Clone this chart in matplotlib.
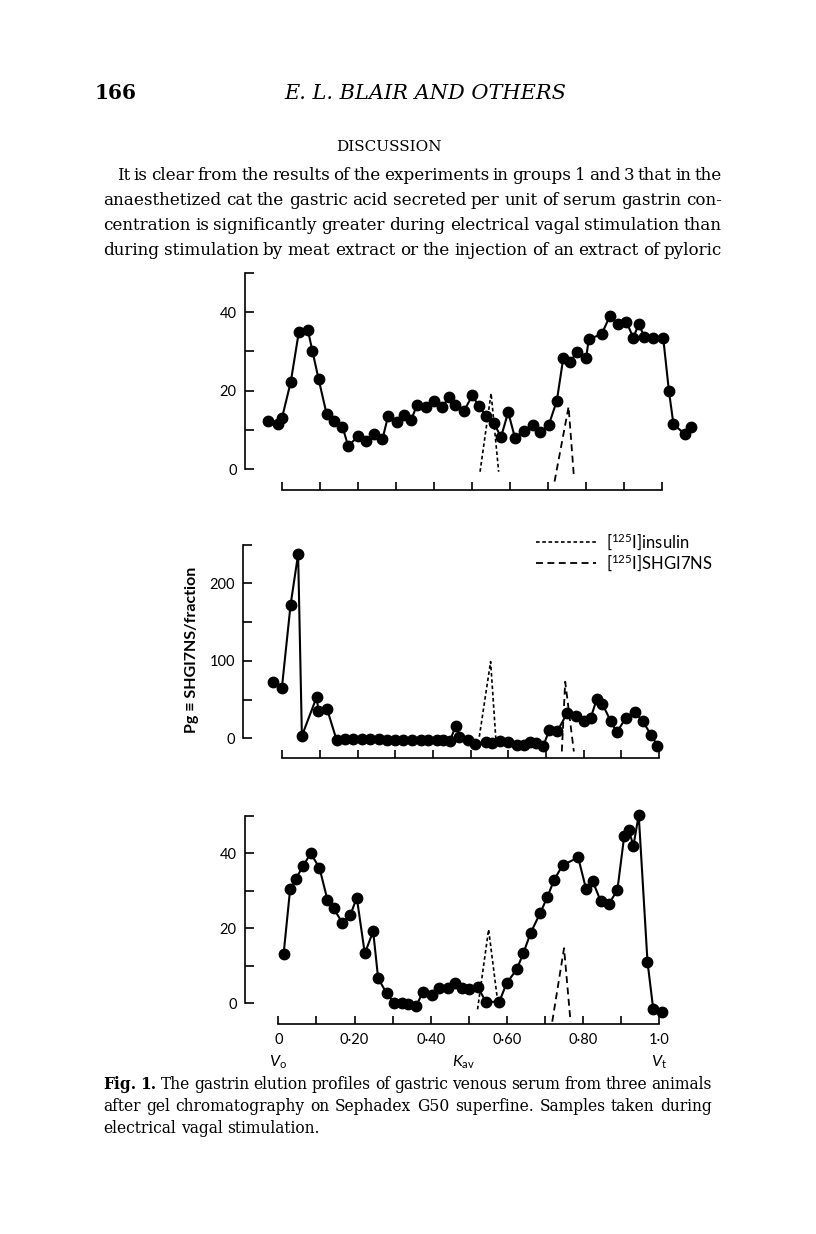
import matplotlib
matplotlib.use("Agg")
import matplotlib.pyplot as plt
from matplotlib.lines import Line2D

plt.rcParams["font.family"] = ["Lato", "DejaVu Sans"]
plt.rcParams["mathtext.fontset"] = "custom"
plt.rcParams["mathtext.rm"] = "Lato"
plt.rcParams["mathtext.it"] = "Lato:italic"
plt.rcParams["lines.scale_dashes"] = False

W, H = 816, 1234

#-------------------------------------------------------------------------------
# Top animal
kav_a = [-0.037, -0.011, 0.001, 0.024, 0.045, 0.069, 0.081, 0.097, 0.118, 0.138,
         0.160, 0.175, 0.200, 0.222, 0.242, 0.265, 0.280, 0.303, 0.322, 0.341,
         0.356, 0.379, 0.401, 0.421, 0.441, 0.456, 0.479, 0.502, 0.518, 0.538,
         0.559, 0.577, 0.596, 0.614, 0.637, 0.661, 0.680, 0.703, 0.724, 0.741,
         0.759, 0.777, 0.801, 0.808, 0.842, 0.864, 0.885, 0.907, 0.925, 0.940,
         0.954, 0.978, 1.004, 1.019, 1.031, 1.061, 1.076]
pg_a = [12.3, 11.4, 13.1, 22.3, 34.9, 35.4, 30.0, 23.0, 14.1, 12.3,
        10.8, 5.8, 8.3, 7.1, 8.9, 7.6, 13.5, 12.1, 13.9, 12.6,
        16.3, 15.8, 17.4, 15.7, 18.4, 16.3, 14.7, 18.8, 16.1, 13.6,
        11.7, 8.1, 14.5, 7.9, 9.7, 11.1, 9.4, 11.3, 17.4, 28.3,
        27.4, 29.8, 28.2, 33.1, 34.4, 39.1, 36.9, 37.6, 33.5, 37.0,
        33.7, 33.4, 33.4, 19.9, 11.4, 8.9, 10.7]
ins_kav_a = [0.522, 0.551, 0.571]
ins_a = [-0.7, 19.3, -0.7]
shgi_kav_a = [0.718, 0.755, 0.769]
shgi_a = [-3.2, 15.9, -2.0]

# Middle animal
kav_b = [-0.024, -0.001, 0.022, 0.042, 0.052, 0.091, 0.096, 0.119, 0.144,
         0.166, 0.188, 0.212, 0.233, 0.256, 0.277, 0.300, 0.321, 0.345, 0.367,
         0.388, 0.410, 0.427, 0.445, 0.461, 0.470, 0.493, 0.512, 0.542, 0.558,
         0.578, 0.600, 0.624, 0.642, 0.658, 0.673, 0.693, 0.709, 0.730, 0.757,
         0.779, 0.801, 0.819, 0.835, 0.850, 0.872, 0.888, 0.912, 0.936, 0.957,
         0.979, 0.996]
pg_b = [72.4, 65.5, 172.4, 237.5, 3.0, 53.0, 35.8, 37.5, -2.0,
        -1.0, -1.0, -1.0, -1.0, -1.5, -2.0, -2.0, -2.5, -2.5, -2.0,
        -2.0, -2.0, -2.5, -3.0, 16.4, 1.3, -1.7, -7.3, -4.3, -5.6,
        -3.9, -4.3, -8.6, -8.2, -4.3, -6.5, -9.5, 10.8, 9.1, 33.2,
        28.9, 22.4, 26.7, 50.9, 44.0, 22.0, 7.8, 26.3, 33.6, 22.0,
        4.3, -9.5]
ins_kav_b = [0.523, 0.553, 0.567]
ins_b = [2.0, 99.0, -2.0]
shgi_kav_b = [0.742, 0.751, 0.774]
shgi_b = [-17.0, 73.0, -17.0]

# Bottom animal
kav_c = [0.014, 0.031, 0.046, 0.065, 0.085, 0.108, 0.129, 0.145, 0.168, 0.189,
         0.206, 0.227, 0.249, 0.262, 0.284, 0.304, 0.324, 0.341, 0.362, 0.380,
         0.404, 0.421, 0.446, 0.464, 0.481, 0.500, 0.523, 0.545, 0.580, 0.599,
         0.626, 0.643, 0.662, 0.687, 0.706, 0.724, 0.746, 0.787, 0.808, 0.825,
         0.846, 0.867, 0.890, 0.908, 0.920, 0.932, 0.946, 0.969, 0.984, 1.008]
pg_c = [13.2, 30.4, 33.2, 36.6, 40.0, 36.1, 27.6, 25.3, 21.5, 23.5,
        28.2, 13.3, 19.2, 6.7, 2.7, 0.0, 0.0, -0.2, -0.7, 3.1,
        2.2, 4.2, 4.2, 5.3, 4.0, 3.9, 4.4, 0.4, 0.4, 5.3,
        9.1, 13.3, 18.7, 24.0, 28.3, 32.9, 36.8, 38.9, 30.4, 32.6,
        27.3, 26.4, 30.2, 44.7, 46.2, 42.0, 50.2, 11.1, -1.5, -2.2]
ins_kav_c = [0.523, 0.552, 0.578]
ins_c = [-1.6, 19.7, -1.3]
shgi_kav_c = [0.719, 0.750, 0.767]
shgi_c = [-4.9, 14.7, -4.9]

kav_ticks = [0, 0.1, 0.2, 0.3, 0.4, 0.5, 0.6, 0.7, 0.8, 0.9, 1.0]
kav_labels = ["0", "", "0·20", "", "0·40", "", "0·60", "", "0·80", "", "1·0"]

yticks_small = [0, 10, 20, 30, 40, 50]
ylabels_small = ["0", "", "20", "", "40", ""]
yticks_big = [0, 50, 100, 150, 200, 250]
ylabels_big = ["0", "", "100", "", "200", ""]

para = [
  "It is clear from the results of the experiments in groups 1 and 3 that in the",
  "anaesthetized cat the gastric acid secreted per unit of serum gastrin con-",
  "centration is significantly greater during electrical vagal stimulation than",
  "during stimulation by meat extract or the injection of an extract of pyloric",
]
caption = [
  "Fig. 1. The gastrin elution profiles of gastric venous serum from three animals",
  "after gel chromatography on Sephadex G50 superfine. Samples taken during",
  "electrical vagal stimulation.",
]

INS_DASH = (2.6, 1.9)
SHGI_DASH = (5.0, 3.2)

#-------------------------------------------------------------------------------

def make_panel(fig, x0px, x1px, y0px, scale, xlim, ylim, axis_y, yticks, ylabels,
               xlabels=None):
  """ Place an axes so that data x=0..1 and y=0 land on the given pixels. """
  sx = x1px - x0px
  left = x0px + xlim[0] * sx
  right = x0px + xlim[1] * sx
  top = y0px - ylim[1] * scale
  bottom = y0px - ylim[0] * scale
  ax = fig.add_axes([left / W, 1 - bottom / H, (right - left) / W, (bottom - top) / H])
  ax.set_xlim(*xlim)
  ax.set_ylim(*ylim)
  ax.patch.set_visible(False)
  for s in ["top", "right"]:
    ax.spines[s].set_visible(False)
  ax.spines["left"].set_bounds(yticks[0], yticks[-1])
  ax.spines["bottom"].set_position(("data", axis_y))
  ax.spines["bottom"].set_bounds(0, 1)
  for s in ["left", "bottom"]:
    ax.spines[s].set_linewidth(1.2)
  ax.set_yticks(yticks)
  ax.set_yticklabels(ylabels)
  ax.set_xticks(kav_ticks)
  ax.set_xticklabels(xlabels if xlabels else [""] * len(kav_ticks))
  ax.tick_params(axis="y", direction="in", length=6.5, width=1.2, labelsize=10.5, pad=6)
  ax.tick_params(axis="x", direction="in", length=5.5, width=1.2, labelsize=10.5, pad=6)
  return ax

def draw_profile(ax, kav, pg, ikav, ins, skav, shgi):
  ax.plot(ikav, ins, color="k", lw=1.2, dashes=INS_DASH, clip_on=False)
  ax.plot(skav, shgi, color="k", lw=1.3, dashes=SHGI_DASH, clip_on=False)
  ax.plot(kav, pg, "-o", color="k", lw=1.5, ms=7.5, clip_on=False)

def text_line(fig, renderer, line, x0, x1, ybase, size, justify=True, bold_n=0,
              **kw):
  """ Write one line of page text, justified between x0 and x1 (pixels). """
  words = line.split()
  objs = []
  for i, w in enumerate(words):
    t = fig.text(x0 / W, 1 - ybase / H, w, size=size, va="baseline",
                 fontweight="bold" if i < bold_n else "normal", **kw)
    objs.append(t)
  widths = [t.get_window_extent(renderer).width for t in objs]
  if justify and len(words) > 1:
    gap = (x1 - x0 - sum(widths)) / (len(words) - 1)
  else:
    gap = size * 100 / 72 * 0.32
  x = x0
  for t, wd in zip(objs, widths):
    t.set_x(x / W)
    x += wd + gap

#-------------------------------------------------------------------------------

def main():
  fig = plt.figure(figsize=(W / 100, H / 100), dpi=100)
  fig.patch.set_facecolor("white")
  renderer = fig.canvas.get_renderer()

  serif = dict(family=["DejaVu Serif"])

  # Page header and text
  fig.text(95 / W, 1 - 99 / H, "166", size=14.5, fontweight="bold", va="baseline", **serif)
  fig.text(425 / W, 1 - 99 / H, "E. L. BLAIR AND OTHERS", size=15, style="italic",
           ha="center", va="baseline", **serif)
  fig.text(389 / W, 1 - 151 / H, "DISCUSSION", size=11, ha="center", va="baseline", **serif)
  for i, line in enumerate(para):
    text_line(fig, renderer, line, 117 if i == 0 else 103, 722, 180 + 25 * i, 12.1, **serif)
  for i, line in enumerate(caption):
    text_line(fig, renderer, line, 103, 712, 1089 + 22 * i, 11.2,
              justify=(i < 2), bold_n=2 if i == 0 else 0, **serif)

  # Panels
  ax1 = make_panel(fig, 281.7, 661.7, 469.0, 3.92, (-0.097, 1.1), (-8, 52), -5.4,
                   yticks_small, ylabels_small)
  draw_profile(ax1, kav_a, pg_a, ins_kav_a, ins_a, shgi_kav_a, shgi_a)

  ax2 = make_panel(fig, 282.3, 659.0, 738.3, 0.775, (-0.1035, 1.1), (-32, 255), -25.8,
                   yticks_big, ylabels_big)
  draw_profile(ax2, kav_b, pg_b, ins_kav_b, ins_b, shgi_kav_b, shgi_b)

  ax3 = make_panel(fig, 278.3, 659.3, 1003.3, 3.75, (-0.087, 1.1), (-8, 52), -5.6,
                   yticks_small, ylabels_small, xlabels=kav_labels)
  draw_profile(ax3, kav_c, pg_c, ins_kav_c, ins_c, shgi_kav_c, shgi_c)

  ax3.text(0, -15.8, r"$V_{\mathrm{o}}$", ha="center", va="center", size=11.5)
  ax3.text(0.485, -15.8, r"$K_{\mathrm{av}}$", ha="center", va="center", size=11.5)
  ax3.text(1.0, -15.8, r"$V_{\mathrm{t}}$", ha="center", va="center", size=11.5)

  fig.text(192 / W, 1 - 650 / H, "Pg ≡ SHGI7NS/fraction", rotation=90, ha="center",
           va="center", size=11.5, fontweight="bold")

  handles = [Line2D([], [], color="k", lw=1.2, dashes=INS_DASH),
             Line2D([], [], color="k", lw=1.3, dashes=SHGI_DASH)]
  fig.legend(handles, [r"[$^{125}$I]insulin", r"[$^{125}$I]SHGI7NS"],
             loc="upper left", bbox_to_anchor=(536 / W, 1 - 531 / H), frameon=False,
             handlelength=3.6, handletextpad=0.6, labelspacing=0.05, borderpad=0,
             borderaxespad=0, fontsize=12)

  fig.savefig("out.png", dpi=100, facecolor="white")
  plt.close(fig)

if __name__ == "__main__":
  main()
